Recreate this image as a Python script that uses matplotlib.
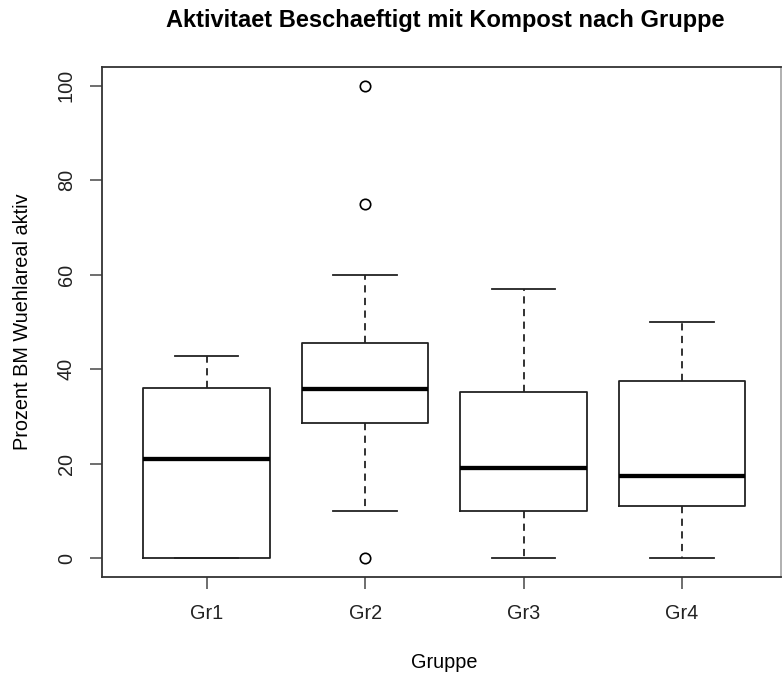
import matplotlib
matplotlib.use("Agg")
import matplotlib.pyplot as plt

plt.rcParams['font.family'] = ['Liberation Sans', 'DejaVu Sans']

groups = ["Gr1", "Gr2", "Gr3", "Gr4"]
whisker_low = [0, 10, 0, 0]
q1 = [0, 28.6, 10.0, 11.1]
median = [21.0, 35.7, 19.1, 17.4]
q3 = [35.9, 45.5, 35.2, 37.5]
whisker_high = [42.8, 60, 57.0, 50.0]
outliers = [[], [0, 75, 100], [], []]

title = "Aktivitaet Beschaeftigt mit Kompost nach Gruppe"
xlabel = "Gruppe"
ylabel = "Prozent BM Wuehlareal aktiv"
yticks = [0, 20, 40, 60, 80, 100]

W, H = 782, 678
fig = plt.figure(figsize=(W / 100, H / 100), dpi=100)
left, right, top, bottom = 102.3, 780.5, 66.7, 577.0
ax = fig.add_axes([left / W, 1 - bottom / H, (right - left) / W, (bottom - top) / H])

stats = []
for i, g in enumerate(groups):
    stats.append(dict(label=g, whislo=whisker_low[i], q1=q1[i], med=median[i],
                      q3=q3[i], whishi=whisker_high[i], fliers=outliers[i]))

lc = "#222222"
ax.bxp(stats, positions=range(1, len(groups) + 1), widths=0.8,
       showfliers=True, patch_artist=False,
       boxprops=dict(color=lc, linewidth=1.3),
       whiskerprops=dict(color=lc, linewidth=1.3, linestyle=(0, (4, 3))),
       capprops=dict(color=lc, linewidth=1.3),
       capwidths=0.4,
       medianprops=dict(color="black", linewidth=3.1, solid_capstyle="butt"),
       flierprops=dict(marker="o", markersize=7.5, markerfacecolor="none",
                       markeredgecolor="black", markeredgewidth=1.2))

ax.set_xlim(0.34, 4.623)
ax.set_ylim(-4, 104)
ax.set_yticks(yticks)
ax.set_yticklabels([str(t) for t in yticks], rotation=90, va="center")
ax.set_xticks(range(1, len(groups) + 1))
ax.set_xticklabels(groups)
for s in ax.spines.values():
    s.set_color("#333333")
    s.set_linewidth(1.3)
ax.spines["right"].set_color("#aaaaaa")
ax.tick_params(axis="both", length=8.6, width=1.2, color="#555555",
               labelsize=14.3, colors="#222222")
ax.tick_params(axis="y", pad=10.5)
ax.tick_params(axis="x", pad=10.5)

fig.text(445 / W, 1 - 27 / H, title, ha="center", va="baseline",
         fontsize=17, fontweight="bold")
fig.text(444.5 / W, 1 - 668 / H, xlabel, ha="center", va="baseline", fontsize=14.3)
fig.text(22.5 / W, 1 - (top + bottom) / 2 / H, ylabel, ha="center", va="center",
         rotation=90, fontsize=14.3)

fig.savefig("out.png", dpi=100)
